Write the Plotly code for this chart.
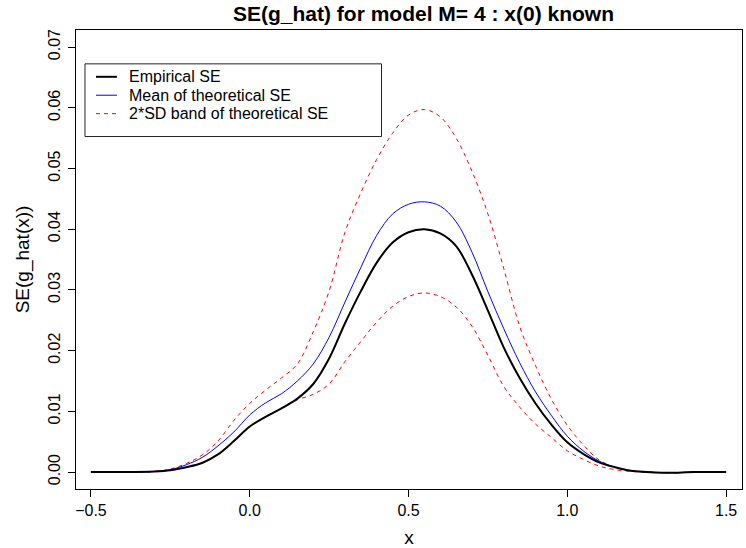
import plotly.graph_objects as go

# grid of x values and the curves
x = [-0.5, -0.4, -0.3, -0.25, -0.2, -0.15, -0.1, -0.05, 0.0, 0.05, 0.1, 0.15,
     0.2, 0.25, 0.3, 0.35, 0.4, 0.45, 0.5, 0.55, 0.6, 0.65, 0.7, 0.75, 0.8,
     0.85, 0.9, 0.95, 1.0, 1.05, 1.1, 1.15, 1.2, 1.25, 1.3, 1.35, 1.4, 1.45, 1.5]

empirical_se = [0.0, 0.0, 0.0001, 0.0003, 0.0008, 0.0015, 0.0029, 0.0051, 0.0075,
                0.0091, 0.0105, 0.0121, 0.0145, 0.0187, 0.0245, 0.0298, 0.0345,
                0.0378, 0.0395, 0.0400, 0.0393, 0.0372, 0.0325, 0.0266, 0.0205,
                0.0155, 0.0113, 0.0078, 0.0049, 0.0030, 0.0016, 0.0008, 0.0002,
                0.0, -0.0001, -0.0001, 0.0, 0.0, 0.0]

mean_theoretical_se = [0.0, 0.0, 0.0001, 0.0004, 0.0012, 0.0024, 0.0043, 0.0066,
                       0.0094, 0.0114, 0.0129, 0.0150, 0.0178, 0.0222, 0.0280,
                       0.0337, 0.0390, 0.0425, 0.0441, 0.0445, 0.0438, 0.0412,
                       0.0362, 0.0297, 0.0236, 0.0180, 0.0132, 0.0093, 0.0059,
                       0.0035, 0.0018, 0.0008, 0.0002, 0.0, -0.0001, -0.0001,
                       0.0, 0.0, 0.0]

band_upper = [0.0, 0.0, 0.0001, 0.0005, 0.0014, 0.0028, 0.0051, 0.0085, 0.0113,
              0.0135, 0.0155, 0.0178, 0.0231, 0.0298, 0.0395, 0.0460, 0.0515,
              0.0558, 0.0588, 0.0597, 0.0585, 0.0550, 0.0495, 0.0425, 0.0335,
              0.0240, 0.0175, 0.0120, 0.0077, 0.0045, 0.0020, 0.0008, 0.0002,
              0.0, -0.0001, -0.0001, 0.0, 0.0, 0.0]

band_lower = [0.0, 0.0, 0.0001, 0.0003, 0.0008, 0.0015, 0.0029, 0.0051, 0.0075,
              0.0091, 0.0105, 0.0119, 0.0128, 0.0145, 0.0182, 0.0215, 0.0247,
              0.0273, 0.0289, 0.0295, 0.0289, 0.0272, 0.0240, 0.0192, 0.0141,
              0.0107, 0.0079, 0.0057, 0.0035, 0.0021, 0.0010, 0.0004, 0.0001,
              0.0, -0.0001, -0.0001, 0.0, 0.0, 0.0]

x_ticks = [-0.5, 0.0, 0.5, 1.0, 1.5]
y_ticks = [0.0, 0.01, 0.02, 0.03, 0.04, 0.05, 0.06, 0.07]

legend_labels = ["Empirical SE", "Mean of theoretical SE", "2*SD band of theoretical SE"]

FONT = "Liberation Sans, Arial, Helvetica, sans-serif"
dash = "4px,4px"

fig = go.Figure()
fig.add_trace(go.Scatter(x=x, y=band_upper, mode="lines", line_shape="spline",
                         line=dict(color="#ff0000", width=1, dash=dash)))
fig.add_trace(go.Scatter(x=x, y=band_lower, mode="lines", line_shape="spline",
                         line=dict(color="#ff0000", width=1, dash=dash)))
fig.add_trace(go.Scatter(x=x, y=mean_theoretical_se, mode="lines", line_shape="spline",
                         line=dict(color="#0000ff", width=1)))
fig.add_trace(go.Scatter(x=x, y=empirical_se, mode="lines", line_shape="spline",
                         line=dict(color="black", width=2)))

# plot area in pixels: left 76, right 743, top 30, bottom 491
W, H = 746, 548
L, R, T, B = 76, 743, 30, 491
def px_x(p):
    return (p - L) / (R - L)
def px_y(p):
    return (B - p) / (B - T)

# hand-made legend box like R's legend()
shapes = [dict(type="rect", xref="paper", yref="paper",
               x0=px_x(85), x1=px_x(382), y0=px_y(137), y1=px_y(64),
               line=dict(color="#222", width=1))]
annotations = []
legend_styles = [dict(color="black", width=2), dict(color="#0000ff", width=1),
                 dict(color="#ff0000", width=1, dash=dash)]
row_y = [77, 95.5, 114]
for lab, st, ry in zip(legend_labels, legend_styles, row_y):
    shapes.append(dict(type="line", xref="paper", yref="paper",
                       x0=px_x(96), x1=px_x(117), y0=px_y(ry), y1=px_y(ry), line=st))
    annotations.append(dict(text=lab, xref="paper", yref="paper", x=px_x(127), y=px_y(ry),
                            xanchor="left", yanchor="middle", showarrow=False,
                            font=dict(size=16, color="black", family=FONT)))

fig.update_layout(
    width=W, height=H,
    margin=dict(l=L, r=W - R, t=T, b=H - B),
    plot_bgcolor="white", paper_bgcolor="white",
    showlegend=False,
    font=dict(family=FONT, size=16, color="black"),
    title=dict(text="<b>SE(g_hat) for model M= 4 : x(0) known</b>",
               x=px_x(424), xref="paper", xanchor="center",
               y=1 - 14 / H, yref="container", yanchor="middle",
               font=dict(size=21, family=FONT, color="black")),
    shapes=shapes,
    annotations=annotations,
)
fig.update_xaxes(range=[-0.547, 1.550], tickvals=x_ticks, tickformat=".1f",
                 showgrid=False, zeroline=False, showline=True, mirror=True,
                 linecolor="black", linewidth=1, ticks="outside", ticklen=7,
                 tickcolor="black", title=dict(text="x", standoff=12))
fig.update_yaxes(range=[-0.00279, 0.0728], tickvals=y_ticks, tickformat=".2f",
                 tickangle=-90, ticklabelstandoff=2, showgrid=False, zeroline=False,
                 showline=True, mirror=True, linecolor="black", linewidth=1,
                 ticks="outside", ticklen=7, tickcolor="black",
                 title=dict(text="SE(g_hat(x))", standoff=10))

# page has a default 8px body margin; drop it so the figure sits at 0,0
fig.write_html("out.html", config={"displayModeBar": False},
               post_script="document.body.style.margin = '0';")
